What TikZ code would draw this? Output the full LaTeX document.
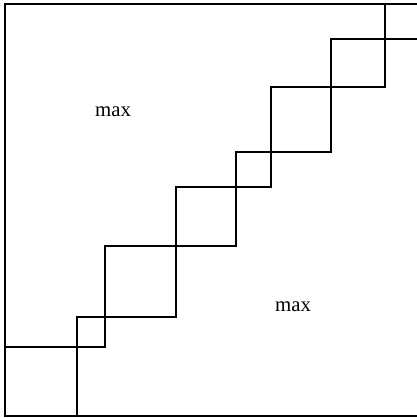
\documentclass[tikz,border=0pt]{standalone}
\usepackage{fontspec}
\setmainfont{Liberation Serif}
\begin{document}
\begin{tikzpicture}[x=0.5pt,y=-0.5pt,line width=0.6pt,
  region/.style={anchor=base,font=\fontsize{10.4}{12}\selectfont}]
\useasboundingbox (0,0) rectangle (417,418);
% frame (open on the right)
\draw (417,4) -- (5,4) -- (5,416) -- (417,416);
% upper staircase
\draw (5,347) -| (105,246) -| (236,152) -| (331,39) -- (417,39);
% lower staircase
\draw (77,416) |- (176,317) |- (271,187) |- (385,87) -- (385,4);
\node[region] (maxup) at (113,116) {max};
\node[region] (maxlow) at (293,311) {max};
\end{tikzpicture}
\end{document}
